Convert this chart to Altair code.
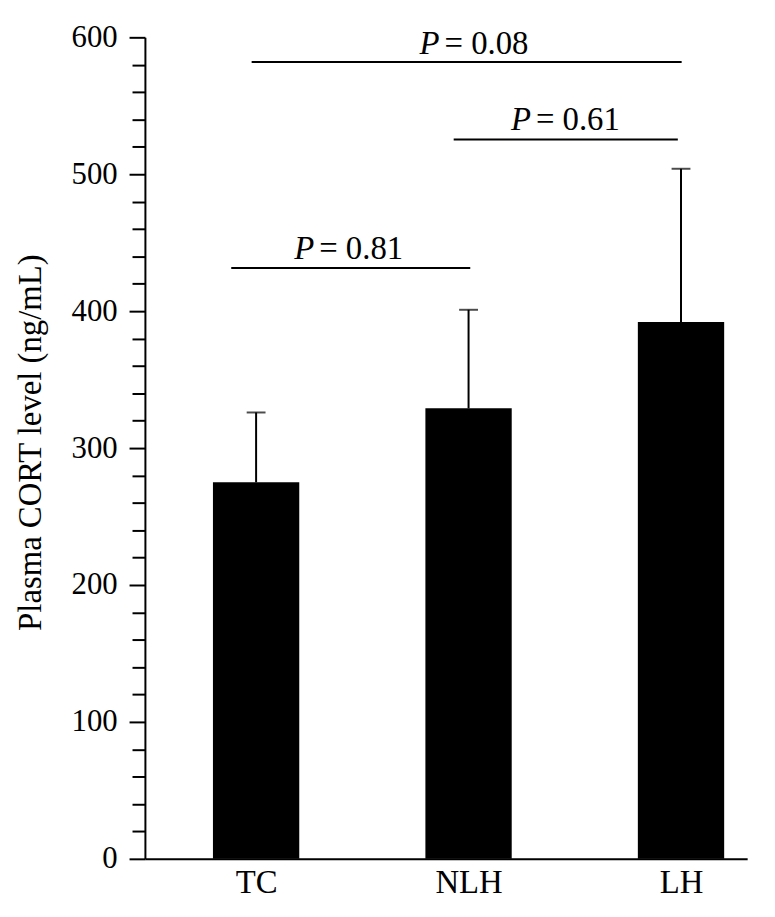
import altair as alt
import pandas as pd

# Bar data
groups = ["TC", "NLH", "LH"]
positions = [1, 2, 3]
means = [275, 329, 392]
errors = [51, 72, 112]

# Significance brackets
p_labels = ["= 0.81", "= 0.61", "= 0.08"]
br_start = [0.883, 1.930, 0.979]
br_end = [2.008, 2.985, 3.003]
br_y = [431.6, 525.4, 582.0]
txt_x = [1.269, 2.289, 1.859]
txt_y = [438.0, 532.0, 588.0]

# Axis ticks
y_ticks = list(range(0, 601, 20))

FONT = "Liberation Serif"

bars_df = pd.DataFrame({"group": groups, "pos": positions, "mean": means, "err": errors})
bars_df["upper"] = bars_df["mean"] + bars_df["err"]
br_df = pd.DataFrame({"label": p_labels, "x1": br_start, "x2": br_end, "y": br_y,
                      "tx": txt_x, "ty": txt_y})

xscale = alt.Scale(domain=[0.5, 3.288], nice=False, zero=False)
yscale = alt.Scale(domain=[0, 600], nice=False)

label_map = "datum.value === 1 ? 'TC' : datum.value === 2 ? 'NLH' : datum.value === 3 ? 'LH' : ''"

x_axis = alt.Axis(values=positions, labelExpr=label_map, ticks=False, grid=False,
                  domainColor="black", domainWidth=2, labelFont=FONT, labelFontSize=33,
                  labelColor="black", labelPadding=8, labelOverlap=False, title=None)
y_axis = alt.Axis(values=y_ticks, tickCount=100,
                  labelExpr="datum.value % 100 === 0 ? datum.label : ''",
                  labelOverlap=False,
                  tickSize={"condition": {"test": "datum.value % 100 === 0", "value": 16}, "value": 13},
                  tickWidth=2, tickColor="black", domainColor="black", domainWidth=2,
                  grid=False, labelFont=FONT, labelFontSize=31, labelColor="black",
                  labelPadding=12, title="Plasma CORT level (ng/mL)", titleFont=FONT,
                  titleFontSize=33, titleFontWeight="normal", titleColor="black",
                  titleX=-98, titleY=408, titleAlign="center", titleBaseline="bottom")

base = alt.Chart(bars_df)

bars = base.mark_bar(color="black", size=87).encode(
    x=alt.X("pos:Q", scale=xscale, axis=x_axis),
    y=alt.Y("mean:Q", scale=yscale, axis=y_axis),
)
err_line = base.mark_rule(color="black", strokeWidth=2).encode(
    x="pos:Q", y="mean:Q", y2="upper:Q"
)
err_cap = base.mark_tick(color="black", orient="horizontal", size=19, thickness=2).encode(
    x="pos:Q", y="upper:Q"
)

brb = alt.Chart(br_df)
br_lines = brb.mark_rule(color="black", strokeWidth=2).encode(
    x="x1:Q", x2="x2:Q", y="y:Q"
)
p_italic = brb.mark_text(text="P", font=FONT, fontSize=33, fontStyle="italic",
                         align="right", baseline="alphabetic", dx=1, color="black").encode(
    x="tx:Q", y="ty:Q"
)
p_rest = brb.mark_text(font=FONT, fontSize=33, align="left", baseline="alphabetic",
                       dx=6, color="black").encode(
    x="tx:Q", y="ty:Q", text="label:N"
)

chart = alt.layer(bars, err_line, err_cap, br_lines, p_italic, p_rest).properties(
    width=607, height=828,
    autosize=alt.AutoSizeParams(type="none"),
    padding={"left": 138, "top": 26, "right": 20, "bottom": 46},
).configure_view(stroke=None)

chart.save("out.html", embed_options={"renderer": "svg", "actions": False})
